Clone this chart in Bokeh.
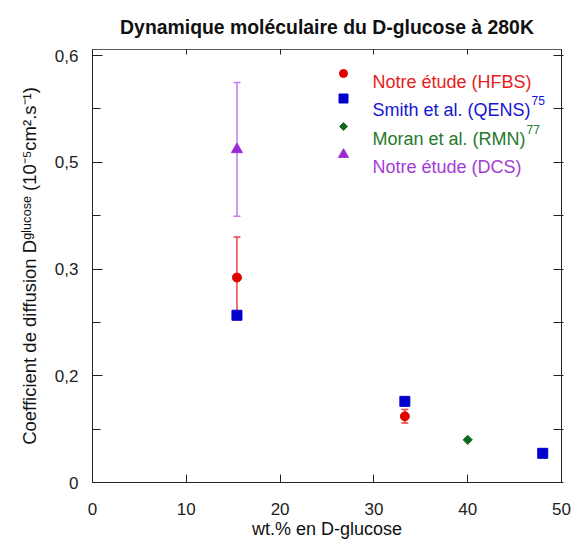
import math
from bokeh.plotting import figure
from bokeh.models import (Range1d, FixedTicker, LinearAxis, Label, Whisker,
                          ColumnDataSource, TeeHead)
from bokeh.embed import file_html
from bokeh.resources import INLINE

# ---------------- data ----------------
hfbs_x = [15.4, 33.3]
hfbs_y = [0.288, 0.093]
hfbs_err = [0.057, 0.0095]

qens_x = [15.4, 33.3, 48.0]
qens_y = [0.235, 0.114, 0.041]

rmn_x = [40.0]
rmn_y = [0.060]

dcs_x = [15.4]
dcs_y = [0.468]
dcs_err = [0.094]

x_ticks = [0, 10, 20, 30, 40, 50]
y_ticks = [0, 0.15, 0.3, 0.45, 0.6]
y_tick_labels = ["0", "0,2", "0,3", "0,5", "0,6"]
y_minor_ticks = [0.075, 0.225, 0.375, 0.525]

title_text = "Dynamique moléculaire du D-glucose à 280K"
x_label_text = "wt.% en D-glucose"
y_label_text = "Coefficient de diffusion D\u1d4d\u02e1\u1d58\u1d9c\u1d52\u02e2\u1d49 (10\u207b\u2075cm\u00b2.s\u207b\u00b9)"
legend_labels = ["Notre étude (HFBS)", "Smith et al. (QENS)",
                 "Moran et al. (RMN)", "Notre étude (DCS)"]
legend_refs = ["", "75", "77", ""]

# ---------------- style ----------------
FONT = "Liberation Sans"
RED, RED_ERR, RED_TXT = "#e00000", "#f04040", "#e8201c"
BLUE, BLUE_TXT = "#0000cc", "#1616d4"
GREEN, GREEN_TXT = "#0a6b1e", "#1f7a2c"
PURPLE, PURPLE_ERR, PURPLE_TXT = "#9b2bd6", "#c47af0", "#a43bd8"
AXIS = "#222222"

W, H = 572, 541
FL, FR, FT, FB = 92, 561, 49, 482          # frame edges in canvas pixels
Y_MAX = 0.6 * (FB - FT) / (FB - 55)
X_MAX = 50

# Arial / Liberation Sans advance widths (1/1000 em)
WID = {' ': 278, '(': 333, ')': 333, '.': 278, '-': 333, '%': 889,
       'A': 667, 'B': 667, 'C': 722, 'D': 722, 'E': 667, 'F': 611, 'H': 722,
       'K': 667, 'M': 833, 'N': 722, 'Q': 778, 'R': 722, 'S': 667, 'T': 611,
       'a': 556, 'b': 556, 'c': 500, 'd': 556, 'e': 556, 'é': 556, 'f': 278,
       'g': 556, 'h': 556, 'i': 222, 'l': 222, 'm': 833, 'n': 556, 'o': 556,
       'r': 333, 's': 500, 't': 278, 'u': 556, 'w': 722, 'à': 556}
for d in "0123456789":
    WID[d] = 556


def text_w(s, size):
    return sum(WID.get(ch, 556) for ch in s) * size / 1000.0


def dx(px):
    return (px - FL) / (FR - FL) * X_MAX


def dy(py):
    return (FB - py) / (FB - FT) * Y_MAX


p = figure(width=W, height=H, output_backend="svg", toolbar_location=None,
           title=title_text,
           x_range=Range1d(0, X_MAX), y_range=Range1d(0, Y_MAX),
           min_border_left=FL, min_border_right=W - FR,
           min_border_top=FT, min_border_bottom=H - FB,
           background_fill_color="white", border_fill_color="white")
p.outline_line_color = None
p.grid.visible = False

p.title.align = "center"
p.title.text_font = FONT
p.title.text_font_size = "19.4px"
p.title.text_font_style = "bold"
p.title.text_color = "#111111"
p.title.standoff = 24

# bottom axis
xa = p.xaxis[0]
xa.ticker = FixedTicker(ticks=x_ticks, minor_ticks=[])
xa.major_tick_in, xa.major_tick_out = 8, 0
xa.major_label_standoff = 20
xa.major_label_text_font = FONT
xa.major_label_text_font_size = "17px"
xa.major_label_text_color = AXIS
xa.axis_line_color = AXIS
xa.major_tick_line_color = AXIS
xa.axis_label = x_label_text
xa.axis_label_text_font = FONT
xa.axis_label_text_font_size = "18px"
xa.axis_label_text_font_style = "normal"
xa.axis_label_text_color = "#111111"
xa.axis_label_standoff = 1

# left axis
ya = p.yaxis[0]
ya.ticker = FixedTicker(ticks=y_ticks, minor_ticks=y_minor_ticks)
ya.major_label_overrides = {t: l for t, l in zip(y_ticks, y_tick_labels)}
ya.major_tick_in, ya.major_tick_out = 10, 0
ya.minor_tick_in, ya.minor_tick_out = 8, 0
ya.major_label_standoff = 14
ya.major_label_text_font = FONT
ya.major_label_text_font_size = "17px"
ya.major_label_text_color = AXIS
ya.axis_line_color = AXIS
ya.major_tick_line_color = AXIS
ya.minor_tick_line_color = AXIS
ya.axis_label = y_label_text
ya.axis_label_text_font = FONT
ya.axis_label_text_font_size = "18.5px"
ya.axis_label_text_font_style = "normal"
ya.axis_label_text_color = "#111111"
ya.axis_label_standoff = 12

# top axis (frame)
ta = LinearAxis(ticker=FixedTicker(ticks=x_ticks, minor_ticks=[]),
                major_tick_in=5, major_tick_out=0, major_label_standoff=0,
                major_label_text_font_size="1px", major_label_text_color=None,
                axis_line_color="#555555", major_tick_line_color=AXIS)
p.add_layout(ta, "above")

# right axis (frame)
ra = LinearAxis(ticker=FixedTicker(ticks=y_ticks, minor_ticks=y_minor_ticks),
                major_tick_in=8, major_tick_out=2, minor_tick_in=8,
                minor_tick_out=2, major_label_standoff=0,
                major_label_text_font_size="1px", major_label_text_color=None,
                axis_line_color=AXIS, major_tick_line_color=AXIS,
                minor_tick_line_color=AXIS)
p.add_layout(ra, "right")

# error bars
hfbs_src = ColumnDataSource(dict(x=hfbs_x, y=hfbs_y,
                                 upper=[v + e for v, e in zip(hfbs_y, hfbs_err)],
                                 lower=[v - e for v, e in zip(hfbs_y, hfbs_err)]))
dcs_src = ColumnDataSource(dict(x=dcs_x, y=dcs_y,
                                upper=[v + e for v, e in zip(dcs_y, dcs_err)],
                                lower=[v - e for v, e in zip(dcs_y, dcs_err)]))
for src, col in ((hfbs_src, RED_ERR), (dcs_src, PURPLE_ERR)):
    p.add_layout(Whisker(source=src, base="x", upper="upper", lower="lower",
                         line_color=col, line_width=1.5,
                         upper_head=TeeHead(size=7, line_color=col, line_width=1.5),
                         lower_head=TeeHead(size=7, line_color=col, line_width=1.5)))

# data markers
p.scatter("x", "y", source=hfbs_src, marker="circle", size=9,
          fill_color=RED, line_color=RED)
p.scatter(qens_x, qens_y, marker="square", size=10, fill_color=BLUE, line_color=BLUE)
p.scatter(rmn_x, rmn_y, marker="square", angle=math.pi / 4, size=6.5,
          fill_color=GREEN, line_color=GREEN)
p.scatter("x", "y", source=dcs_src, marker="triangle", size=11,
          fill_color=PURPLE, line_color=PURPLE)

# legend (manual, inside the frame)
leg_marker_y = [73, 98, 126, 154]
leg_text_y = [81, 109, 138, 166]
leg_markers = [("circle", 8, 0, RED), ("square", 9, 0, BLUE),
               ("square", 5.5, math.pi / 4, GREEN), ("triangle", 10, 0, PURPLE)]
leg_colors = [RED_TXT, BLUE_TXT, GREEN_TXT, PURPLE_TXT]
for i, (lab, ref) in enumerate(zip(legend_labels, legend_refs)):
    mk, sz, ang, col = leg_markers[i]
    p.scatter([dx(343)], [dy(leg_marker_y[i])], marker=mk, size=sz, angle=ang,
              fill_color=col, line_color=col)
    p.add_layout(Label(x=dx(372), y=dy(leg_text_y[i]), text=lab,
                       text_font=FONT, text_font_size="18px",
                       text_color=leg_colors[i], text_align="left",
                       text_baseline="alphabetic"))
    if ref:
        p.add_layout(Label(x=dx(373 + text_w(lab, 18)), y=dy(leg_text_y[i] - 9),
                           text=ref, text_font=FONT, text_font_size="12px",
                           text_color=leg_colors[i], text_align="left",
                           text_baseline="alphabetic"))

open("out.html", "w").write(file_html(p, INLINE))
